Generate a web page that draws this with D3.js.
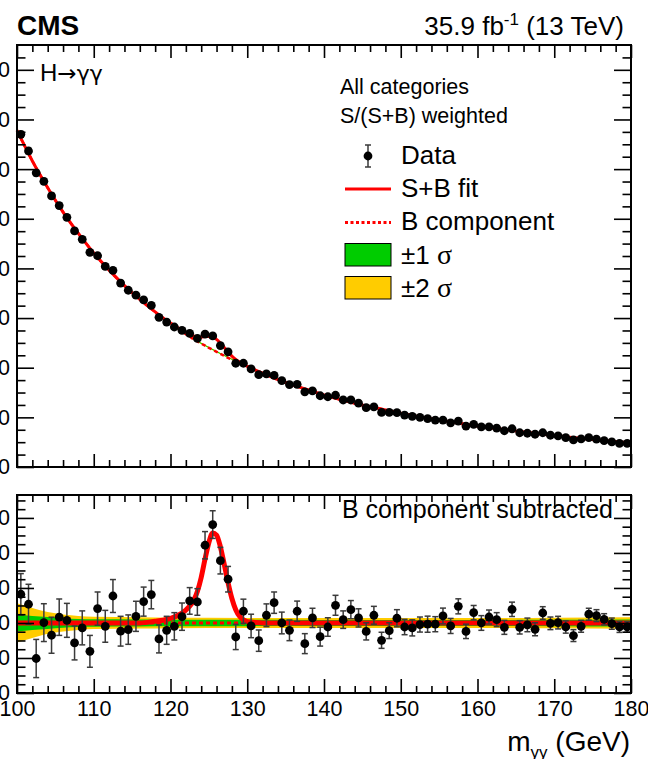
<!DOCTYPE html>
<head>
    <meta charset="utf-8">
</head>

<style type="text/css">
    body {
        margin: 0;
        background: #fff;
    }
    svg {
        display: block;
        font-family: "Liberation Sans", Arial, sans-serif;
    }
    .axis path.domain {
        display: none;
    }
    .axis line {
        stroke: #000;
        stroke-width: 1.6px;
    }
    .axis text {
        font-family: "Liberation Sans", Arial, sans-serif;
        font-size: 21.5px;
        fill: #000;
    }
    .frame {
        fill: none;
        stroke: #000;
        stroke-width: 2px;
    }
    .fit-line {
        fill: none;
        stroke: #ff0000;
    }
    .err {
        stroke: #3a3a3a;
        stroke-width: 1.5px;
    }
</style>

<body>
    <div id="chart"></div>
</body>

<script src="https://cdn.jsdelivr.net/npm/d3@7"></script>

<script>

// bin centres, 1 GeV bins from 100 to 180
var massBins = d3.range(100.5, 180, 1);

// S/(S+B) weighted events / GeV, upper panel
var dataEvents = [
    1340, 1273, 1185, 1151, 1092, 1053, 1006, 951, 917, 865,
    851, 808, 792, 741, 712, 692, 673, 651, 603, 584,
    564, 550, 538, 518, 535, 528, 489, 464, 418, 418,
    395, 372, 375, 369, 348, 332, 333, 303, 307, 287,
    283, 289, 270, 270, 257, 239, 242, 220, 220, 219,
    209, 204, 200, 195, 189, 189, 178, 185, 165, 172,
    162, 162, 157, 146, 154, 138, 136, 132, 138, 128,
    125, 118, 109, 113, 118, 112, 106, 101, 95, 95
];

// data minus B component, lower panel
var dataResidual = [
    16.4, 10.7, -20.3, 0.2, -7.0, 3.3, 1.5, -11.4, -2.8, -16.2,
    8.2, -1.9, 15.4, -4.7, -3.8, 3.8, 12.2, 16.2, -9.1, -4.2,
    -1.9, 3.6, 12.6, 12.0, 44.4, 56.2, 35.6, 25.0, -8.0, 6.7,
    -1.7, -10.1, 4.4, 11.6, 0.0, -4.2, 6.7, -11.8, 2.9, -7.8,
    -2.3, 10.1, 1.9, 7.6, 2.9, -4.8, 4.4, -9.9, -4.4, 2.7,
    -2.3, -2.8, -0.9, -0.7, -0.7, 4.0, -1.7, 9.5, -4.8, 5.9,
    0.0, 3.4, 1.9, -2.5, 7.8, -2.5, -1.1, -3.6, 5.7, -0.2,
    0.2, -2.3, -7.2, -1.9, 5.0, 4.2, 2.1, -0.4, -2.3, -2.3
];

// statistical errors (same for both panels)
var dataError = [
    11.8, 11.4, 10.9, 10.8, 10.3, 10.4, 9.7, 9.7, 9.7, 9.1,
    9.5, 9.1, 9.4, 8.5, 8.4, 8.6, 8.3, 8.1, 8.0, 8.0,
    7.8, 7.8, 7.6, 7.6, 7.8, 7.9, 7.6, 7.3, 7.2, 6.9,
    6.7, 6.1, 6.5, 6.1, 6.2, 5.9, 5.8, 5.7, 5.5, 5.4,
    5.3, 5.7, 5.0, 5.2, 5.2, 4.9, 5.1, 4.6, 4.5, 4.9,
    4.4, 4.6, 4.3, 4.6, 4.3, 4.5, 4.3, 4.3, 4.1, 4.1,
    4.2, 4.0, 4.0, 4.0, 4.1, 3.8, 3.9, 3.7, 3.6, 3.6,
    3.6, 3.5, 3.4, 3.4, 3.4, 3.4, 3.2, 3.2, 3.1, 3.0
];

// fit curves sampled on this mass grid
var fitMass = [
    100, 102, 104, 106, 108, 110, 112, 114, 116, 118, 119, 120, 121, 122,
    122.5, 123, 123.5, 124, 124.5, 125, 125.5, 126, 126.5, 127, 127.5, 128,
    128.5, 129, 129.5, 130, 131, 132, 134, 136, 138, 140, 142, 144, 146, 148,
    150, 152, 154, 156, 158, 160, 162, 164, 166, 168, 170, 172, 174, 176, 178, 180
];
var fitBkg = [
    1356, 1233, 1125, 1027, 941, 862, 793, 731, 675, 624, 600, 577, 556, 535,
    525, 515, 506, 497, 489, 480, 472, 464, 456, 448, 440, 433,
    426, 419, 412, 405, 391, 378, 352, 330, 310, 290, 273, 257, 243, 230,
    217, 205, 194, 184, 174, 165, 157, 149, 141, 134, 127, 120, 114, 108, 102, 97
];
var fitSig = [
    0, 0, 0, 0, 0, 0, 0, 0, 0, 1.0, 1.6, 2.6, 4.4, 7.4,
    9.6, 12.8, 18.0, 26.0, 36.5, 46.0, 51.4, 50.2, 43.5, 33.5, 23.0, 14.0,
    7.6, 3.8, 1.8, 0.8, 0.3, 0, 0, 0, 0, 0, 0, 0, 0, 0,
    0, 0, 0, 0, 0, 0, 0, 0, 0, 0, 0, 0, 0, 0, 0, 0
];

// uncertainty bands on the B component
var bandMass = [100, 102, 104, 106, 108, 110, 116, 120, 130, 140, 150, 160, 170, 180];
var band1s = [4.8, 4.0, 3.4, 2.7, 2.3, 2.1, 2.0, 1.9, 1.8, 1.7, 1.7, 1.7, 1.8, 2.0];
var band2s = [11.2, 8.6, 6.2, 4.9, 4.0, 3.5, 3.2, 3.0, 2.9, 2.8, 2.8, 2.8, 3.0, 3.3];

// axis ticks
var xTicks = [100, 110, 120, 130, 140, 150, 160, 170, 180];
var yTopTicks = [0, 200, 400, 600, 800, 1000, 1200, 1400, 1600];
var yBotTicks = [-40, -20, 0, 20, 40, 60];

var W = 648, H = 759;

var x = d3.scaleLinear().domain([100, 180]).range([17, 631]);
var yTop = d3.scaleLinear().domain([0, 1700]).range([467, 45]);
var yBot = d3.scaleLinear().domain([-40, 73.1]).range([693, 495]);

var svg = d3.select("#chart").append("svg")
    .attr("width", W)
    .attr("height", H);

var points = massBins.map(function(m, i) {
    return {m: m, val: dataEvents[i], res: dataResidual[i], err: dataError[i]};
});

var fit = fitMass.map(function(m, i) {
    return {m: m, b: fitBkg[i], s: fitSig[i]};
});

var band = bandMass.map(function(m, i) {
    var j = fitMass.indexOf(m);
    return {m: m, b: fitBkg[j], s1: band1s[i], s2: band2s[i]};
});

function drawPanel(y, isTop) {
    var g = svg.append("g");

    var base = function(d) { return isTop ? d.b : 0; };

    var area2 = d3.area()
        .curve(d3.curveMonotoneX)
        .x(function(d) { return x(d.m); })
        .y0(function(d) { return y(base(d) - d.s2); })
        .y1(function(d) { return y(base(d) + d.s2); });
    var area1 = d3.area()
        .curve(d3.curveMonotoneX)
        .x(function(d) { return x(d.m); })
        .y0(function(d) { return y(base(d) - d.s1); })
        .y1(function(d) { return y(base(d) + d.s1); });

    g.append("path").attr("d", area2(band)).attr("fill", "#ffcc00");
    g.append("path").attr("d", area1(band)).attr("fill", "#00cc00");

    var bLine = d3.line()
        .curve(d3.curveMonotoneX)
        .x(function(d) { return x(d.m); })
        .y(function(d) { return y(base(d)); });
    var sbLine = d3.line()
        .curve(d3.curveMonotoneX)
        .x(function(d) { return x(d.m); })
        .y(function(d) { return y(base(d) + d.s); });

    g.append("path")
        .attr("class", "fit-line")
        .attr("d", bLine(fit))
        .attr("stroke-width", isTop ? 2.5 : 3)
        .attr("stroke-dasharray", "4,3");

    g.append("path")
        .attr("class", "fit-line")
        .attr("d", sbLine(fit))
        .attr("stroke-width", isTop ? 3 : 5);

    var val = function(d) { return isTop ? d.val : d.res; };

    var errs = g.append("g").selectAll(".errbar")
        .data(points)
        .enter().append("g")
        .attr("class", "errbar");
    errs.append("line")
        .attr("class", "err")
        .attr("x1", function(d) { return x(d.m); })
        .attr("x2", function(d) { return x(d.m); })
        .attr("y1", function(d) { return y(val(d) - d.err); })
        .attr("y2", function(d) { return y(val(d) + d.err); });
    [-1, 1].forEach(function(sgn) {
        errs.append("line")
            .attr("class", "err")
            .attr("x1", function(d) { return x(d.m) - 3; })
            .attr("x2", function(d) { return x(d.m) + 3; })
            .attr("y1", function(d) { return y(val(d) + sgn * d.err); })
            .attr("y2", function(d) { return y(val(d) + sgn * d.err); });
    });

    g.append("g").selectAll(".g-dot")
        .data(points)
        .enter().append("circle")
        .attr("class", "g-dot")
        .attr("r", 4.4)
        .attr("cx", function(d) { return x(d.m); })
        .attr("cy", function(d) { return y(val(d)); });

    // axes, ticks pointing inwards on all four sides
    var yTicks = isTop ? yTopTicks : yBotTicks;
    var step = (yTicks[1] - yTicks[0]) / 4;
    var yMinor = d3.range(y.domain()[0], y.domain()[1], step).filter(function(v) {
        return yTicks.indexOf(v) < 0;
    });
    var xMinor = d3.range(100, 180, 2).filter(function(v) { return v % 10 != 0; });
    var yPix = y.range();
    var xMaj = isTop ? 13 : 14;

    g.append("g").attr("class", "axis")
        .attr("transform", "translate(" + x(100) + ",0)")
        .call(d3.axisLeft(y).tickValues(yTicks).tickSize(-17).tickPadding(7));
    g.append("g").attr("class", "axis")
        .attr("transform", "translate(" + x(100) + ",0)")
        .call(d3.axisLeft(y).tickValues(yMinor).tickSize(-8.5).tickFormat(""));
    g.append("g").attr("class", "axis")
        .attr("transform", "translate(" + x(180) + ",0)")
        .call(d3.axisRight(y).tickValues(yTicks).tickSize(-17).tickFormat(""));
    g.append("g").attr("class", "axis")
        .attr("transform", "translate(" + x(180) + ",0)")
        .call(d3.axisRight(y).tickValues(yMinor).tickSize(-8.5).tickFormat(""));

    g.append("g").attr("class", "axis")
        .attr("transform", "translate(0," + yPix[0] + ")")
        .call(d3.axisBottom(x).tickValues(xTicks).tickSize(-xMaj).tickPadding(8)
            .tickFormat(isTop ? "" : d3.format("d")));
    g.append("g").attr("class", "axis")
        .attr("transform", "translate(0," + yPix[0] + ")")
        .call(d3.axisBottom(x).tickValues(xMinor).tickSize(-7).tickFormat(""));
    g.append("g").attr("class", "axis")
        .attr("transform", "translate(0," + yPix[1] + ")")
        .call(d3.axisTop(x).tickValues(xTicks).tickSize(-xMaj).tickFormat(""));
    g.append("g").attr("class", "axis")
        .attr("transform", "translate(0," + yPix[1] + ")")
        .call(d3.axisTop(x).tickValues(xMinor).tickSize(-7).tickFormat(""));

    g.append("rect")
        .attr("class", "frame")
        .attr("x", x(100))
        .attr("y", yPix[1])
        .attr("width", x(180) - x(100))
        .attr("height", yPix[0] - yPix[1]);
}

drawPanel(yTop, true);
drawPanel(yBot, false);

// header texts
svg.append("text")
    .attr("x", 17).attr("y", 35)
    .style("font-size", "28px")
    .style("font-weight", "bold")
    .text("CMS");

var lumi = svg.append("text")
    .attr("x", 624).attr("y", 35)
    .attr("text-anchor", "end")
    .style("font-size", "26px");
lumi.append("tspan").text("35.9 fb");
lumi.append("tspan").attr("dy", -10).style("font-size", "17px").text("-1");
lumi.append("tspan").attr("dy", 10).text(" (13 TeV)");

var hgg = svg.append("text")
    .attr("x", 40).attr("y", 81)
    .style("font-size", "24px");
hgg.append("tspan").text("H");
hgg.append("tspan")
    .style("font-family", "'DejaVu Sans', sans-serif")
    .style("font-size", "23px")
    .text("\u2192");
hgg.append("tspan")
    .style("font-family", "'DejaVu Sans', sans-serif")
    .style("font-size", "22px")
    .text("\u03b3\u03b3");

svg.append("text")
    .attr("x", 613).attr("y", 518)
    .attr("text-anchor", "end")
    .style("font-size", "25px")
    .text("B component subtracted");

// x axis title
var xt = svg.append("text")
    .attr("x", 630).attr("y", 751)
    .attr("text-anchor", "end")
    .style("font-size", "28px");
xt.append("tspan").text("m");
xt.append("tspan").attr("dy", 7).style("font-size", "17px").text("\u03b3\u03b3");
xt.append("tspan").attr("dy", -7).text(" (GeV)");

// legend
var leg = svg.append("g");
leg.append("text").attr("x", 340).attr("y", 94).style("font-size", "21.5px").text("All categories");
leg.append("text").attr("x", 340).attr("y", 123).style("font-size", "21.5px").text("S/(S+B) weighted");

var legX = 345, legW = 46, legTx = 401;

leg.append("line").attr("class", "err").attr("stroke", "#000")
    .attr("x1", legX + legW / 2).attr("x2", legX + legW / 2).attr("y1", 145).attr("y2", 167);
leg.append("line").attr("class", "err")
    .attr("x1", legX + legW / 2 - 3).attr("x2", legX + legW / 2 + 3).attr("y1", 145).attr("y2", 145);
leg.append("line").attr("class", "err")
    .attr("x1", legX + legW / 2 - 3).attr("x2", legX + legW / 2 + 3).attr("y1", 167).attr("y2", 167);
leg.append("circle").attr("cx", legX + legW / 2).attr("cy", 156).attr("r", 4.4);
leg.append("text").attr("x", legTx).attr("y", 164).style("font-size", "26px").text("Data");

leg.append("line").attr("class", "fit-line").attr("stroke-width", 3)
    .attr("x1", legX).attr("x2", legX + legW).attr("y1", 189).attr("y2", 189);
leg.append("text").attr("x", legTx).attr("y", 197).style("font-size", "26px").text("S+B fit");

leg.append("line").attr("class", "fit-line").attr("stroke-width", 3)
    .attr("stroke-dasharray", "3,2.5")
    .attr("x1", legX).attr("x2", legX + legW).attr("y1", 222.5).attr("y2", 222.5);
leg.append("text").attr("x", legTx).attr("y", 230).style("font-size", "26px").text("B component");

[["#00cc00", 243.5, "\u00b11 "], ["#ffcc00", 276.5, "\u00b12 "]].forEach(function(e) {
    leg.append("rect")
        .attr("x", legX).attr("y", e[1])
        .attr("width", legW).attr("height", 22.5)
        .attr("fill", e[0])
        .attr("stroke", "#000").attr("stroke-width", 1);
    var t = leg.append("text").attr("x", legTx).attr("y", e[1] + 20).style("font-size", "26px");
    t.append("tspan").text(e[2]);
    t.append("tspan").style("font-family", "'Liberation Serif', 'DejaVu Serif', serif")
        .style("font-size", "28px").text("\u03c3");
});

</script>
